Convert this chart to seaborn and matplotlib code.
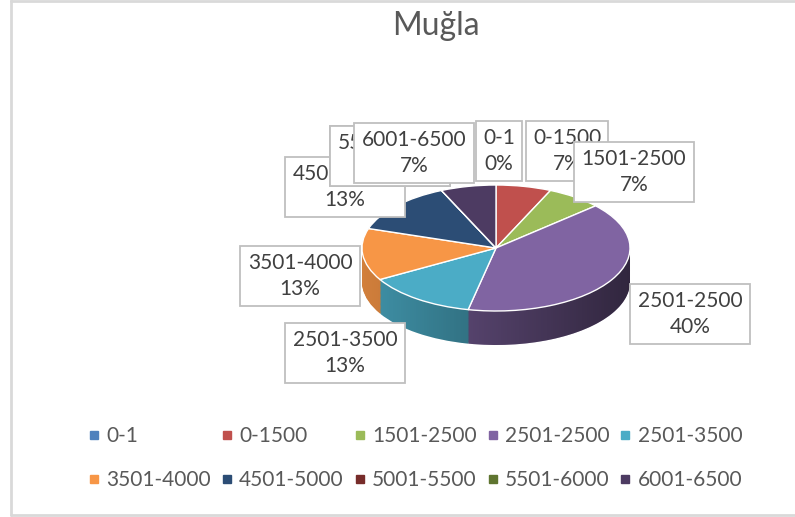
import numpy as np
import matplotlib
matplotlib.use('Agg')
import matplotlib.pyplot as plt
import seaborn as sns
from matplotlib.lines import Line2D
from matplotlib.patches import Polygon

sns.set_theme(style='white')
plt.rcParams['font.family'] = ['Lato', 'DejaVu Sans']

# data
title = 'Muğla'
categories = ['0-1', '0-1500', '1501-2500', '2501-2500', '2501-3500',
              '3501-4000', '4501-5000', '5001-5500', '5501-6000', '6001-6500']
counts = [0, 1, 1, 6, 2, 2, 2, 0, 0, 1]
colors = ['#4F81BD', '#C0504D', '#9BBB59', '#8064A2', '#4BACC6',
          '#F79646', '#2C4D75', '#772C2A', '#5F7530', '#4D3B62']

# label box centres (pixels, from top-left), Excel-style manual placement
label_pos = [(499, 151), (567, 151), (634, 172), (690, 314), (345, 353),
             (300, 276), (345, 187), (390, 156), (390, 156), (414, 153)]

W, H = 795, 517
fig = plt.figure(figsize=(W / 100, H / 100), dpi=100)

# pie geometry in pixels
cx, cy, rx, ry, depth = 496, 248, 134, 63, 34
d = depth / ry
ax = fig.add_axes([(cx - rx) / W, (H - (cy + ry + depth)) / H,
                   2 * rx / W, (2 * ry + depth) / H])

pal = sns.color_palette(colors)
side = [tuple(np.array(c) * 0.85) for c in pal]

# side wall: stacked pies
n = 40
for k in range(n):
    ax.pie(counts, colors=side, startangle=90, counterclock=False,
           center=(0, -d + d * k / n), radius=1,
           wedgeprops=dict(linewidth=0))

# shading on side wall
t = np.linspace(np.pi, 2 * np.pi, 100)
clip_pts = np.column_stack([np.r_[-1, np.cos(t), 1], np.r_[0, -d + np.sin(t), 0]])
clip = Polygon(clip_pts, closed=True, transform=ax.transData)
grad = np.zeros((2, 256, 4))
grad[..., 3] = np.linspace(0.0, 0.55, 256)
im = ax.imshow(grad, extent=(-1, 1, -1 - d, 0), aspect='auto', zorder=5)
im.set_clip_path(clip)

# top face
wedges, _ = ax.pie(counts, colors=pal, startangle=90, counterclock=False,
                   center=(0, 0), radius=1,
                   wedgeprops=dict(edgecolor='white', linewidth=1))
for w in wedges:
    w.set_zorder(10)

ax.set_aspect('auto')
ax.set_xlim(-1, 1)
ax.set_ylim(-1 - d, 1)
ax.axis('off')

# overlay for texts
ov = fig.add_axes([0, 0, 1, 1])
ov.set_xlim(0, W)
ov.set_ylim(H, 0)
ov.axis('off')
ov.patch.set_alpha(0)

# chart border
ov.plot([11, 11], [0, 515], color='#D9D9D9', lw=2)
ov.plot([11, W], [1, 1], color='#D9D9D9', lw=2)
ov.plot([11, W], [515, 515], color='#D9D9D9', lw=2)

ov.text(436, 26, title, ha='center', va='center', fontsize=23, color='#595959')

total = sum(counts)
for i, (cat, v) in enumerate(zip(categories, counts)):
    pct = round(v / total * 100)
    x, y = label_pos[i]
    ov.text(x, y, f'{cat}\n{pct}%', ha='center', va='center', fontsize=15,
            color='#404040', linespacing=1.4, zorder=20 + i,
            bbox=dict(boxstyle='square,pad=0.35', fc='white', ec='#BFBFBF', lw=1.3))

handles = [Line2D([], [], marker='s', ls='', color=c, markersize=5.5) for c in pal]
order = [0, 5, 1, 6, 2, 7, 3, 8, 4, 9]
fig.legend([handles[i] for i in order], [categories[i] for i in order],
           ncol=5, loc='center', bbox_to_anchor=(415 / W, 1 - 458 / H),
           frameon=False, fontsize=15, handlelength=0.6, handletextpad=0.3,
           columnspacing=0.46, labelspacing=1.14, labelcolor='#595959',
           borderpad=0)

fig.savefig('out.png', dpi=100)
